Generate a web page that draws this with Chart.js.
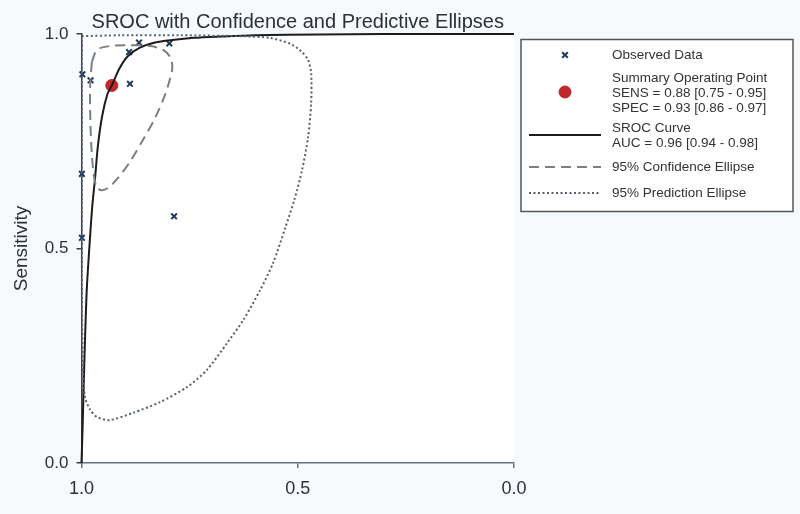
<!DOCTYPE html>
<html>
<head>
<meta charset="utf-8">
<title>SROC with Confidence and Predictive Ellipses</title>
<script src="https://cdn.jsdelivr.net/npm/chart.js@4.4.1/dist/chart.umd.min.js"></script>
<style>
    html, body { margin: 0; padding: 0; background: #f6fafd; }
    #wrap { width: 800px; height: 514px; }
</style>
</head>
<body>
<div id="wrap"><canvas id="srocChart" width="800" height="514"></canvas></div>
<script>
// observed studies (specificity, sensitivity)
const obsSpec = [0.998, 0.979, 0.888, 0.890, 0.867, 0.797, 0.786, 0.999, 0.999];
const obsSens = [0.906, 0.892, 0.884, 0.958, 0.980, 0.978, 0.575, 0.674, 0.525];

// summary operating point
const sumSpec = [0.93];
const sumSens = [0.88];

// SROC curve
const srocSpec = [1.0, 0.997, 0.993, 0.988, 0.982, 0.975, 0.969, 0.962, 0.952, 0.940, 0.930, 0.912, 0.893, 0.865, 0.830, 0.790, 0.740, 0.680, 0.600, 0.450, 0.300, 0.0];
const srocSens = [0.0, 0.10, 0.25, 0.40, 0.50, 0.60, 0.66, 0.74, 0.81, 0.86, 0.88, 0.92, 0.948, 0.968, 0.980, 0.986, 0.991, 0.994, 0.997, 0.999, 1.0, 1.0];

// 95% confidence ellipse
const confSpec = [0.976, 0.964, 0.934, 0.888, 0.841, 0.811, 0.795, 0.790, 0.795, 0.807, 0.830, 0.858, 0.888, 0.916, 0.939, 0.955, 0.966, 0.973, 0.978, 0.980, 0.980, 0.976];
const confSens = [0.935, 0.963, 0.972, 0.974, 0.972, 0.963, 0.946, 0.923, 0.897, 0.858, 0.804, 0.753, 0.702, 0.664, 0.641, 0.636, 0.646, 0.683, 0.753, 0.823, 0.881, 0.935];

// 95% prediction ellipse
const predSpec = [0.999, 0.911, 0.772, 0.633, 0.564, 0.517, 0.490, 0.476, 0.469, 0.469, 0.476, 0.490, 0.508, 0.529, 0.557, 0.587, 0.626, 0.663, 0.710, 0.756, 0.818, 0.881, 0.934, 0.964, 0.980, 0.992, 0.997, 0.999, 0.999, 0.999, 0.999];
const predSens = [0.995, 0.997, 0.997, 0.995, 0.991, 0.977, 0.958, 0.939, 0.909, 0.839, 0.760, 0.683, 0.613, 0.548, 0.466, 0.403, 0.333, 0.280, 0.217, 0.177, 0.142, 0.117, 0.100, 0.107, 0.124, 0.154, 0.233, 0.380, 0.613, 0.846, 0.995];

const xTicks = [1.0, 0.5, 0.0];
const yTicks = [0.0, 0.5, 1.0];

const legendText = [
    ["Observed Data"],
    ["Summary Operating Point", "SENS = 0.88 [0.75 - 0.95]", "SPEC = 0.93 [0.86 - 0.97]"],
    ["SROC Curve", "AUC = 0.96 [0.94 - 0.98]"],
    ["95% Confidence Ellipse"],
    ["95% Prediction Ellipse"]
];

function pts(xs, ys) {
    return xs.map((x, i) => ({x: x, y: ys[i]}));
}

const FONT = "'Liberation Sans', Arial, sans-serif";

const bgPlugin = {
    id: 'bg',
    beforeDraw(chart) {
        const ctx = chart.ctx;
        const a = chart.chartArea;
        ctx.save();
        ctx.fillStyle = '#f6fafd';
        ctx.fillRect(0, 0, chart.width, chart.height);
        ctx.fillStyle = '#ffffff';
        ctx.fillRect(a.left, a.top, a.right - a.left, a.bottom - a.top);
        ctx.restore();
    }
};

// legend box on the right, multi-line entries
const legendPlugin = {
    id: 'sideLegend',
    afterDraw(chart) {
        const ctx = chart.ctx;
        const ds = chart.data.datasets;
        const bx = 521, by = 39.5, bw = 272, bh = 172;
        ctx.save();
        ctx.fillStyle = '#ffffff';
        ctx.fillRect(bx, by, bw, bh);
        ctx.strokeStyle = '#555555';
        ctx.lineWidth = 1.5;
        ctx.strokeRect(bx, by, bw, bh);

        const textX = 612;
        const lineH = 15;
        const firstY = [55, 78, 128, 167, 193];
        const swatchY = [55, 92, 135, 167, 193];
        // dataset index for each legend entry
        const dsIdx = [3, 4, 2, 1, 0];

        ctx.font = '13.5px ' + FONT;
        ctx.fillStyle = '#333333';
        ctx.textBaseline = 'middle';
        ctx.textAlign = 'left';
        legendText.forEach((lines, i) => {
            lines.forEach((t, j) => {
                ctx.fillText(t, textX, firstY[i] + j * lineH);
            });
        });

        dsIdx.forEach((k, i) => {
            const d = ds[k];
            const y = swatchY[i];
            if (d.showLine) {
                ctx.beginPath();
                ctx.strokeStyle = d.borderColor;
                ctx.lineWidth = d.borderWidth;
                ctx.setLineDash(d.borderDash || []);
                ctx.moveTo(529, y);
                ctx.lineTo(601, y);
                ctx.stroke();
                ctx.setLineDash([]);
            } else {
                ctx.strokeStyle = d.borderColor;
                ctx.fillStyle = d.backgroundColor;
                ctx.lineWidth = d.borderWidth;
                Chart.helpers.drawPoint(ctx, {
                    pointStyle: d.pointStyle,
                    radius: d.pointRadius,
                    borderWidth: d.borderWidth,
                    rotation: 0
                }, 565, y);
            }
        });
        ctx.restore();
    }
};

const srocData = {
    datasets: [{
        label: '95% Prediction Ellipse',
        data: pts(predSpec, predSens),
        showLine: true,
        pointRadius: 0,
        borderColor: '#55606b',
        backgroundColor: '#55606b',
        borderWidth: 2,
        borderDash: [2, 2.5],
        tension: 0.25,
        clip: 6
    }, {
        label: '95% Confidence Ellipse',
        data: pts(confSpec, confSens),
        showLine: true,
        pointRadius: 0,
        borderColor: '#7a7f85',
        backgroundColor: '#7a7f85',
        borderWidth: 2,
        borderDash: [10, 6],
        tension: 0.3,
        clip: 6
    }, {
        label: 'SROC Curve',
        data: pts(srocSpec, srocSens),
        showLine: true,
        pointRadius: 0,
        borderColor: '#1c1c1c',
        backgroundColor: '#1c1c1c',
        borderWidth: 2,
        tension: 0.3,
        clip: 6
    }, {
        label: 'Observed Data',
        data: pts(obsSpec, obsSens),
        showLine: false,
        pointStyle: 'crossRot',
        pointRadius: 4,
        borderWidth: 2,
        borderColor: '#1f3b5c',
        backgroundColor: '#1f3b5c',
        clip: 8
    }, {
        label: 'Summary Operating Point',
        data: pts(sumSpec, sumSens),
        showLine: false,
        pointStyle: 'circle',
        pointRadius: 6,
        borderWidth: 1,
        borderColor: '#b8262a',
        backgroundColor: '#c0292c',
        clip: 8
    }]
};

const srocConfig = {
    type: 'scatter',
    data: srocData,
    options: {
        responsive: false,
        animation: false,
        layout: {
            padding: {left: 0, right: 286, top: 0, bottom: 0}
        },
        plugins: {
            legend: {display: false},
            tooltip: {enabled: false},
            title: {
                display: true,
                fullSize: false,
                text: 'SROC with Confidence and Predictive Ellipses',
                color: '#2b3138',
                font: {family: FONT, size: 20, weight: 'normal'},
                padding: {top: 10, bottom: 0}
            }
        },
        scales: {
            x: {
                type: 'linear',
                reverse: true,
                min: 0,
                max: 1,
                afterBuildTicks: function (scale) {
                    scale.ticks = xTicks.map(v => ({value: v}));
                },
                afterFit: function (scale) {
                    scale.height = 51;
                },
                ticks: {
                    color: '#2b3138',
                    font: {family: FONT, size: 18},
                    padding: 10,
                    maxRotation: 0,
                    callback: v => v.toFixed(1)
                },
                grid: {
                    drawOnChartArea: false,
                    drawTicks: true,
                    tickLength: 5,
                    color: '#6b7178',
                    lineWidth: 1.5
                },
                border: {display: true, color: '#6b7178', width: 1.5}
            },
            y: {
                type: 'linear',
                min: 0,
                max: 1,
                afterBuildTicks: function (scale) {
                    scale.ticks = yTicks.map(v => ({value: v}));
                },
                afterFit: function (scale) {
                    scale.width = 81.5;
                },
                title: {
                    display: true,
                    text: 'Sensitivity',
                    color: '#2b3138',
                    font: {family: FONT, size: 19},
                    padding: {top: 10, bottom: 0}
                },
                ticks: {
                    color: '#2b3138',
                    font: {family: FONT, size: 17},
                    padding: 8,
                    callback: v => v.toFixed(1)
                },
                grid: {
                    drawOnChartArea: false,
                    drawTicks: true,
                    tickLength: 5,
                    color: '#3a3f45',
                    lineWidth: 1.5
                },
                border: {display: true, color: '#3a3f45', width: 1.5}
            }
        }
    },
    plugins: [bgPlugin, legendPlugin]
};

var SrocChart = new Chart(
    document.getElementById('srocChart'),
    srocConfig
);
</script>
</body>
</html>
